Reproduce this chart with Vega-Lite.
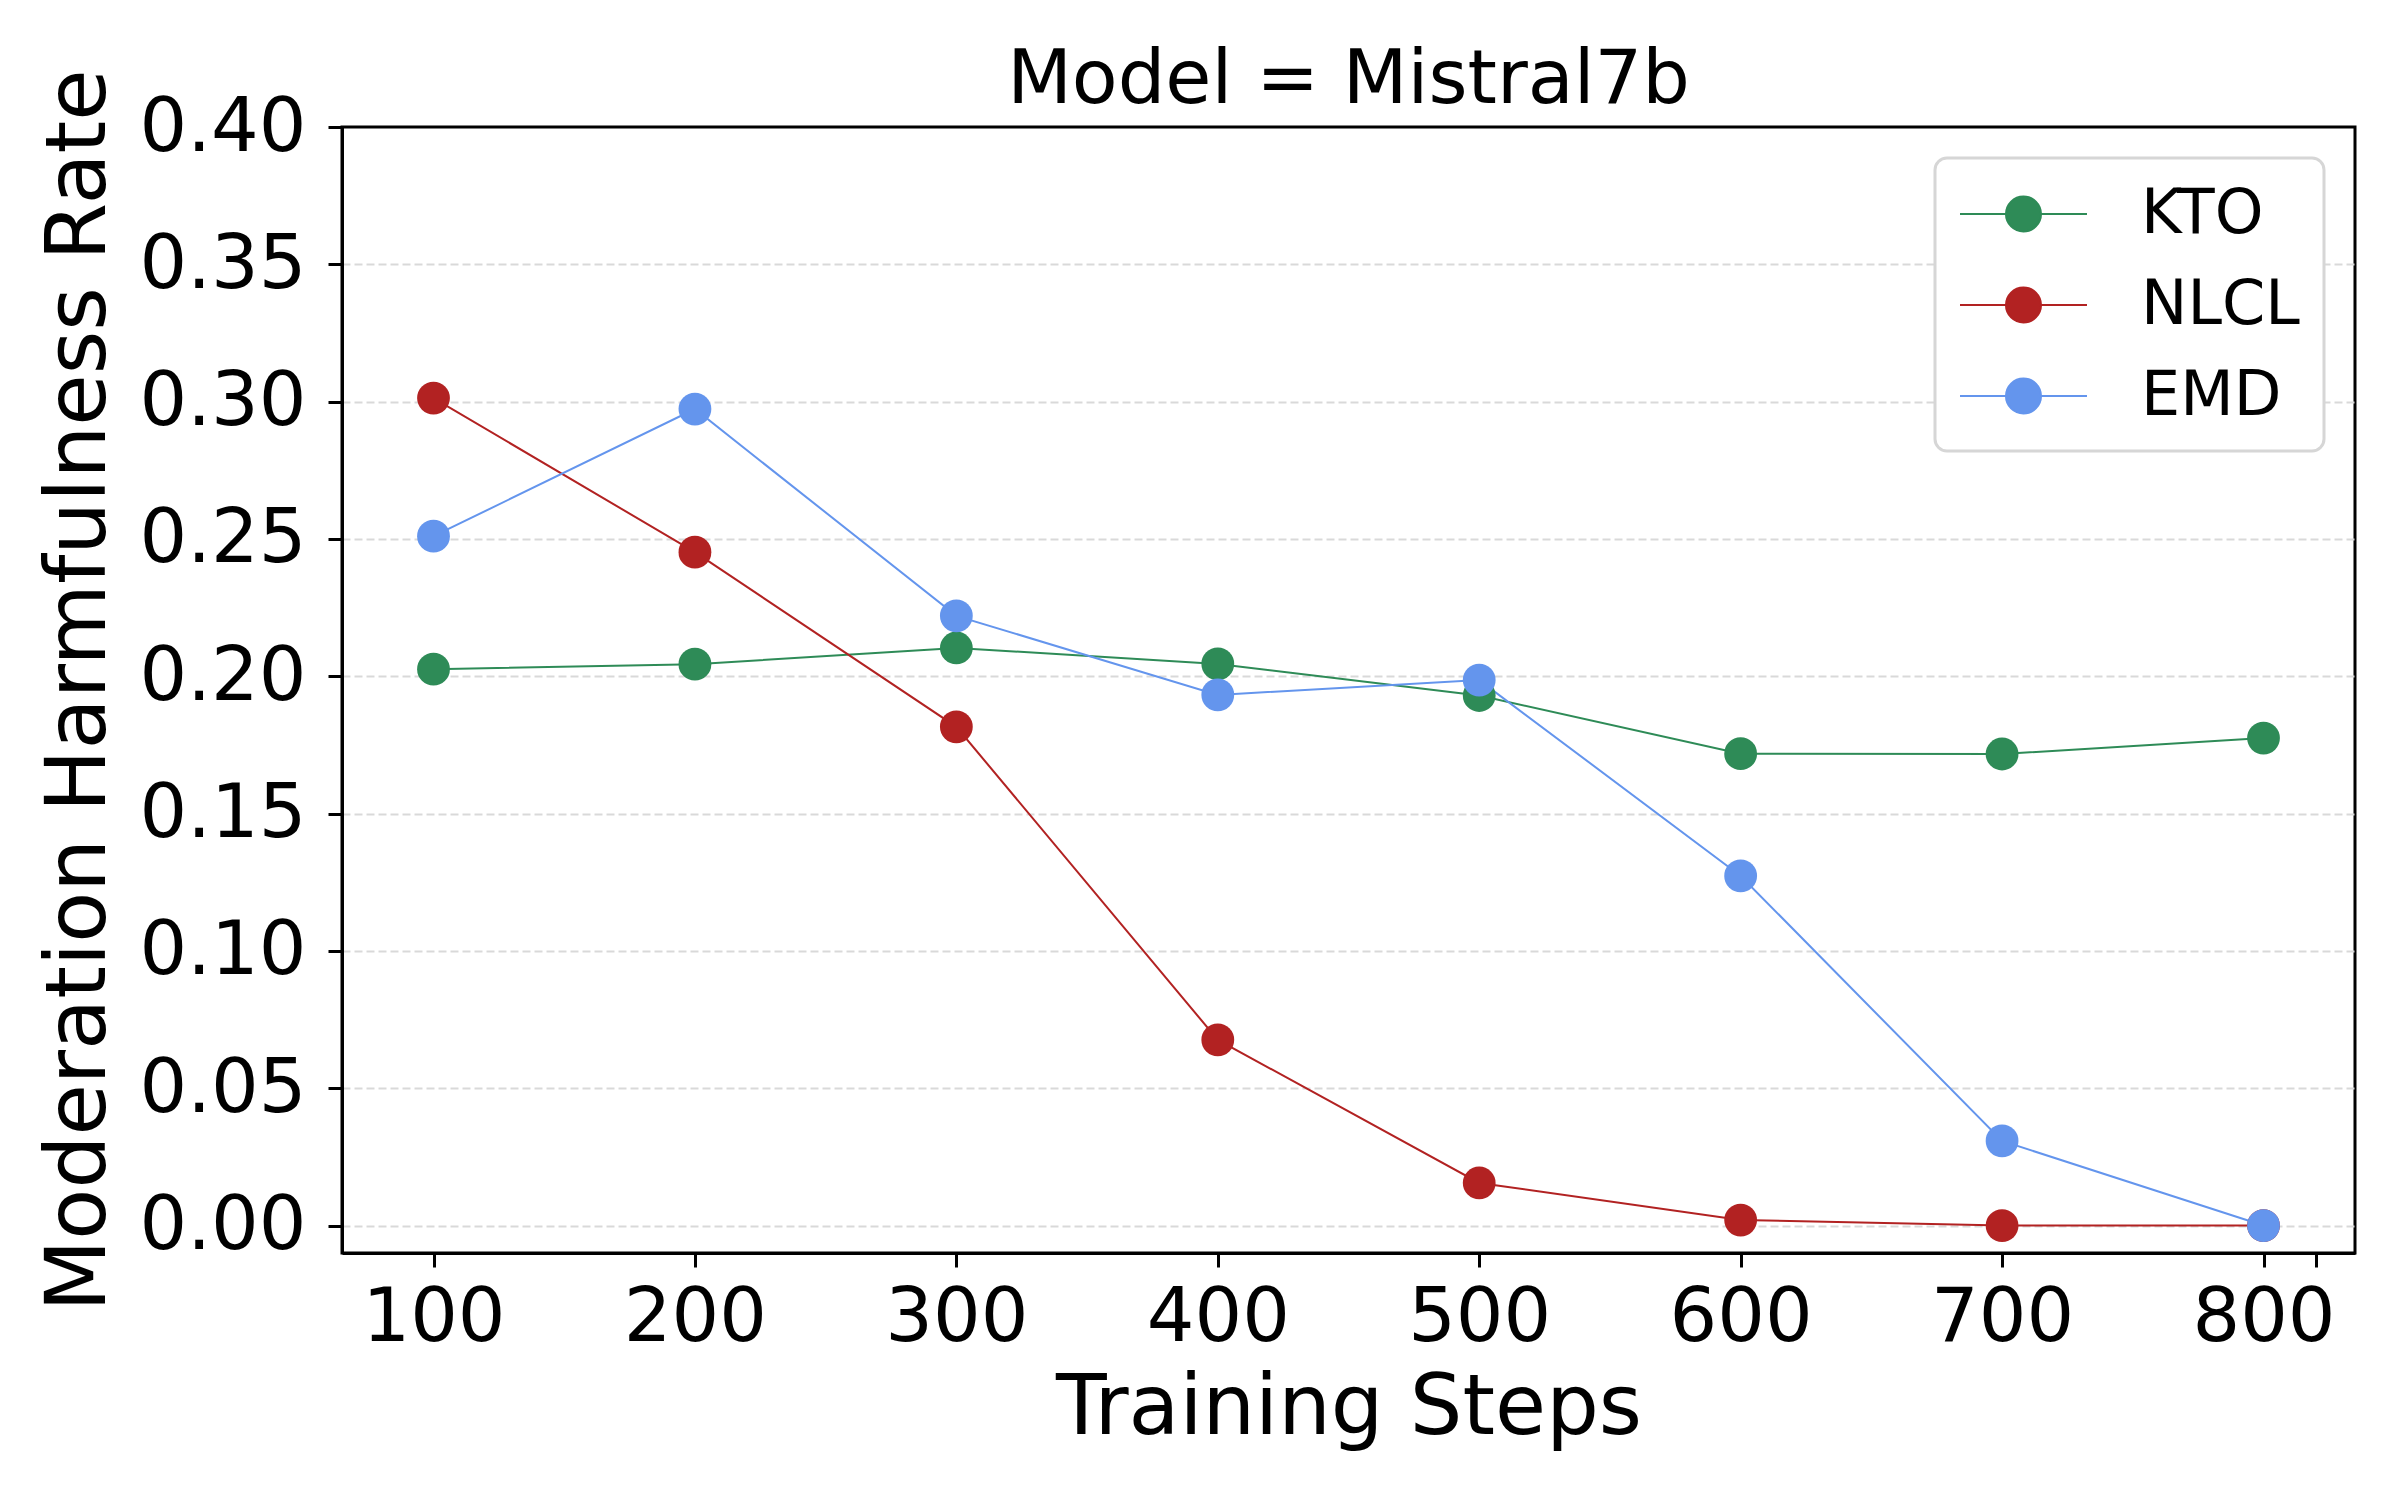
{
  "$schema": "https://vega.github.io/schema/vega-lite/v6.json",
  "width": 2013,
  "height": 1126,
  "autosize": {"type": "none"},
  "padding": {"left": 342, "top": 127, "right": 45, "bottom": 247},
  "background": "white",
  "title": {
    "text": "Model = Mistral7b",
    "font": "DejaVu Sans",
    "fontSize": 75,
    "fontWeight": "normal",
    "color": "black",
    "anchor": "middle",
    "frame": "group",
    "offset": -50
  },
  "data": {
    "values": [
      {"step": 100, "method": "KTO", "rate": 0.2026},
      {"step": 200, "method": "KTO", "rate": 0.2044},
      {"step": 300, "method": "KTO", "rate": 0.2103},
      {"step": 400, "method": "KTO", "rate": 0.2045},
      {"step": 500, "method": "KTO", "rate": 0.1930},
      {"step": 600, "method": "KTO", "rate": 0.1718},
      {"step": 700, "method": "KTO", "rate": 0.1717},
      {"step": 800, "method": "KTO", "rate": 0.1775},
      {"step": 100, "method": "NLCL", "rate": 0.3013},
      {"step": 200, "method": "NLCL", "rate": 0.2452},
      {"step": 300, "method": "NLCL", "rate": 0.1816},
      {"step": 400, "method": "NLCL", "rate": 0.0676},
      {"step": 500, "method": "NLCL", "rate": 0.0155},
      {"step": 600, "method": "NLCL", "rate": 0.0020},
      {"step": 700, "method": "NLCL", "rate": 0.0},
      {"step": 800, "method": "NLCL", "rate": 0.0},
      {"step": 100, "method": "EMD", "rate": 0.2510},
      {"step": 200, "method": "EMD", "rate": 0.2973},
      {"step": 300, "method": "EMD", "rate": 0.2220},
      {"step": 400, "method": "EMD", "rate": 0.1932},
      {"step": 500, "method": "EMD", "rate": 0.1986},
      {"step": 600, "method": "EMD", "rate": 0.1273},
      {"step": 700, "method": "EMD", "rate": 0.0308},
      {"step": 800, "method": "EMD", "rate": 0.0}
    ]
  },
  "encoding": {
    "x": {
      "field": "step",
      "type": "quantitative",
      "title": "Training Steps",
      "scale": {"domain": [65, 835], "nice": false, "zero": false},
      "axis": {
        "values": [100, 200, 300, 400, 500, 600, 700, 800, 820],
        "labelExpr": "datum.value == 820 ? '' : datum.label",
        "grid": false,
        "labelPadding": 14,
        "titlePadding": 12,
        "titleFontSize": 83
      }
    },
    "y": {
      "field": "rate",
      "type": "quantitative",
      "title": "Moderation Harmfulness Rate",
      "scale": {"domain": [-0.01, 0.40], "nice": false, "zero": false},
      "axis": {
        "values": [0, 0.05, 0.1, 0.15, 0.2, 0.25, 0.3, 0.35, 0.4],
        "format": ".2f",
        "grid": true,
        "gridColor": "#d9d9d9",
        "gridDash": [8, 4],
        "gridWidth": 2,
        "gridOpacity": {"condition": {"test": "datum.value >= 0.4", "value": 0}, "value": 1},
        "labelPadding": 22,
        "titlePadding": 20,
        "titleFontSize": 83.5
      }
    },
    "color": {
      "field": "method",
      "type": "nominal",
      "scale": {
        "domain": ["KTO", "NLCL", "EMD"],
        "range": ["#2E8B57", "#B22222", "#6495ED"]
      },
      "legend": {
        "title": null,
        "orient": "top-right",
        "offset": 31,
        "symbolType": "M-1,0H3.096M1.613,0A0.565,0.565,0,1,1,0.483,0A0.565,0.565,0,1,1,1.613,0Z",
        "symbolSize": 3844,
        "symbolStrokeWidth": 2,
        "labelFont": "DejaVu Sans",
        "labelFontSize": 62,
        "labelColor": "black",
        "labelOffset": 118,
        "rowPadding": 28
      }
    }
  },
  "layer": [
    {
      "mark": {"type": "line", "strokeWidth": 2}
    },
    {
      "mark": {"type": "point", "filled": true, "shape": "circle", "size": 1075, "opacity": 1}
    }
  ],
  "config": {
    "font": "DejaVu Sans",
    "view": {"stroke": "black", "strokeWidth": 3},
    "legend": {
      "padding": 24,
      "fillColor": "white",
      "strokeColor": "#d6d6d6",
      "strokeWidth": 3,
      "cornerRadius": 12
    },
    "axis": {
      "domainColor": "black",
      "domainWidth": 3,
      "tickColor": "black",
      "tickWidth": 3,
      "tickSize": 14,
      "labelFont": "DejaVu Sans",
      "labelFontSize": 75,
      "labelColor": "black",
      "labelFlush": false,
      "labelOverlap": false,
      "titleFont": "DejaVu Sans",
      "titleFontSize": 85,
      "titleFontWeight": "normal",
      "titleColor": "black"
    }
  }
}
